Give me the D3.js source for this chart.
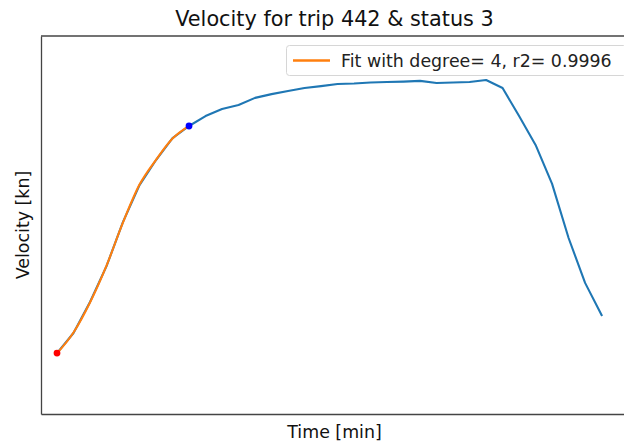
<!DOCTYPE html>
<html>
<head>
<meta charset="utf-8">
<script src="https://cdn.jsdelivr.net/npm/d3@7"></script>
<style>
  html, body { margin: 0; padding: 0; background: #fff; }
  svg { display: block; font-family: "DejaVu Sans", sans-serif; }
</style>
</head>
<body>
<svg id="chart" width="624" height="443"></svg>
<script>
// Measured velocity, one sample per minute
const timeMin = d3.range(0, 34);
const velocityKn = [
  2.58, 3.43, 4.74, 6.26, 8.13, 9.69, 10.75, 11.68, 12.19, 12.61,
  12.91, 13.08, 13.38, 13.54, 13.67, 13.80, 13.88, 13.97, 13.99, 14.03,
  14.05, 14.07, 14.10, 14.01, 14.03, 14.05, 14.14, 13.80, 12.61, 11.39,
  9.74, 7.45, 5.55, 4.19
];

// Degree-4 fit over the acceleration phase (minutes 0..8)
const fitTime = [0, 1, 2, 3, 4, 5, 6, 7, 8];
const fitKn = [2.57, 3.45, 4.72, 6.28, 8.11, 9.71, 10.76, 11.66, 12.20];
const fitLabel = "Fit with degree= 4, r2= 0.9996";

// Start and end of the fitted segment
const startIdx = 0;
const endIdx = 8;

const titleText = "Velocity for trip 442 & status 3";
const xLabel = "Time [min]";
const yLabel = "Velocity [kn]";

const svg = d3.select("#chart");
const margin = { left: 41, top: 36, right: 628, bottom: 414 };

const x = d3.scaleLinear().domain([-0.97, 34.6]).range([margin.left, margin.right]);
const y = d3.scaleLinear().domain([0, 16]).range([margin.bottom, margin.top]);

const line = d3.line().x(d => x(d[0])).y(d => y(d[1]));

// Velocity series
svg.append("path")
  .datum(timeMin.map((t, i) => [t, velocityKn[i]]))
  .attr("d", line)
  .attr("fill", "none")
  .attr("stroke", "#1f77b4")
  .attr("stroke-width", 2.1)
  .attr("stroke-linejoin", "round")
  .attr("stroke-linecap", "square");

// Fitted curve
svg.append("path")
  .datum(fitTime.map((t, i) => [t, fitKn[i]]))
  .attr("d", d3.line().curve(d3.curveMonotoneX).x(d => x(d[0])).y(d => y(d[1])))
  .attr("fill", "none")
  .attr("stroke", "#ff7f0e")
  .attr("stroke-width", 2.1)
  .attr("stroke-linejoin", "round");

// Segment endpoints
svg.append("circle")
  .attr("cx", x(timeMin[startIdx])).attr("cy", y(velocityKn[startIdx]))
  .attr("r", 3.4).attr("fill", "#ff0000");
svg.append("circle")
  .attr("cx", x(timeMin[endIdx])).attr("cy", y(velocityKn[endIdx]))
  .attr("r", 3.4).attr("fill", "#0000ff");

// Axes frame (no ticks)
const xAxis = d3.axisBottom(x).tickValues([]).tickSizeOuter(0);
const yAxis = d3.axisLeft(y).tickValues([]).tickSizeOuter(0);
svg.append("g").attr("transform", `translate(0,${margin.bottom})`).call(xAxis)
  .select(".domain").attr("stroke", "#444").attr("stroke-width", 1.3);
svg.append("g").attr("transform", `translate(${margin.left},0)`).call(yAxis)
  .select(".domain").attr("stroke", "#444").attr("stroke-width", 1.3);
svg.append("line")
  .attr("x1", margin.left).attr("x2", margin.right)
  .attr("y1", margin.top).attr("y2", margin.top)
  .attr("stroke", "#444").attr("stroke-width", 1.3);
svg.append("line")
  .attr("x1", margin.right).attr("x2", margin.right)
  .attr("y1", margin.top).attr("y2", margin.bottom)
  .attr("stroke", "#444").attr("stroke-width", 1.3);

// Legend
const lg = svg.append("g");
lg.append("rect")
  .attr("x", 286.5).attr("y", 45.5).attr("width", 340).attr("height", 30)
  .attr("rx", 3).attr("fill", "#fff").attr("fill-opacity", 0.85)
  .attr("stroke", "#d6d6d6").attr("stroke-width", 1);
lg.append("line")
  .attr("x1", 293).attr("x2", 330).attr("y1", 60.5).attr("y2", 60.5)
  .attr("stroke", "#ff7f0e").attr("stroke-width", 2.3);
lg.append("text")
  .attr("x", 341).attr("y", 66.5)
  .attr("font-size", 17.4).attr("fill", "#222")
  .text(fitLabel);

// Title and axis labels
svg.append("text")
  .attr("x", (margin.left + margin.right) / 2).attr("y", 25.5)
  .attr("text-anchor", "middle").attr("font-size", 20.8).attr("fill", "#111")
  .text(titleText);
svg.append("text")
  .attr("x", (margin.left + margin.right) / 2).attr("y", 438)
  .attr("text-anchor", "middle").attr("font-size", 17.4).attr("fill", "#111")
  .text(xLabel);
svg.append("text")
  .attr("transform", `translate(29,${(margin.top + margin.bottom) / 2}) rotate(-90)`)
  .attr("text-anchor", "middle").attr("font-size", 17.4).attr("fill", "#111")
  .text(yLabel);
</script>
</body>
</html>
